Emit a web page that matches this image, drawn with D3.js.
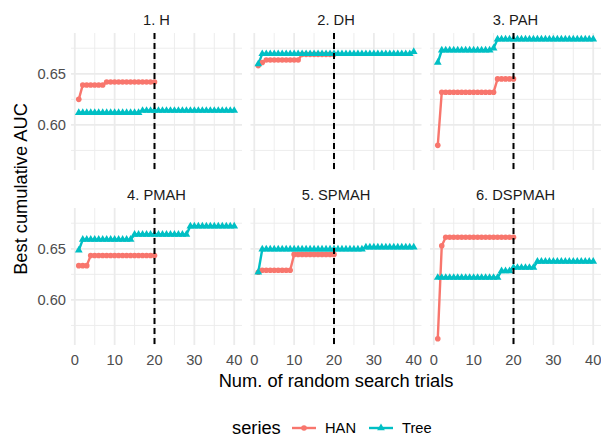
<!DOCTYPE html>
<html>
<head>
<meta charset="utf-8">
<script src="https://cdn.jsdelivr.net/npm/d3@7"></script>
<style>
body { margin: 0; background: #fff; }
svg { font-family: "Liberation Sans", Arial, sans-serif; display: block; }
</style>
</head>
<body>
<svg></svg>
<script>
let panelNames = ['1. H', '2. DH', '3. PAH', '4. PMAH', '5. SPMAH', '6. DSPMAH']
let seriesNames = ['HAN', 'Tree']

let hanTrials = [1,2,3,4,5,6,7,8,9,10,11,12,13,14,15,16,17,18,19,20]
let treeTrials = [1,2,3,4,5,6,7,8,9,10,11,12,13,14,15,16,17,18,19,20,
                  21,22,23,24,25,26,27,28,29,30,31,32,33,34,35,36,37,38,39,40]

// best cumulative AUC, one value per trial
let hanH = [0.625,0.639,0.639,0.639,0.639,0.639,0.639,0.642,0.642,0.642,
            0.642,0.642,0.642,0.642,0.642,0.642,0.642,0.642,0.642,0.642]
let treeH = [0.612,0.612,0.612,0.612,0.612,0.612,0.612,0.612,0.612,0.612,
             0.612,0.612,0.612,0.612,0.612,0.612,0.614,0.614,0.614,0.614,
             0.614,0.614,0.614,0.614,0.614,0.614,0.614,0.614,0.614,0.614,
             0.614,0.614,0.614,0.614,0.614,0.614,0.614,0.614,0.614,0.614]

let hanDH = [0.658,0.661,0.6635,0.6635,0.6635,0.6635,0.6635,0.6635,0.6635,0.6635,
             0.6635,0.669,0.669,0.669,0.669,0.669,0.669,0.669,0.669,0.669]
let treeDH = [0.6595,0.6695,0.6695,0.6695,0.6695,0.6695,0.6695,0.6695,0.6695,0.6695,
              0.6695,0.6695,0.6695,0.6695,0.6695,0.6695,0.6695,0.6695,0.6695,0.6695,
              0.6695,0.6695,0.6695,0.6695,0.6695,0.6695,0.6695,0.6695,0.6695,0.6695,
              0.6695,0.6695,0.6695,0.6695,0.6695,0.6695,0.6695,0.6695,0.6695,0.6715]

let hanPAH = [0.580,0.632,0.632,0.632,0.632,0.632,0.632,0.632,0.632,0.632,
              0.632,0.632,0.632,0.632,0.632,0.645,0.645,0.645,0.645,0.645]
let treePAH = [0.661,0.673,0.673,0.673,0.673,0.673,0.673,0.673,0.673,0.673,
               0.673,0.673,0.673,0.673,0.675,0.6838,0.6838,0.6838,0.6838,0.6838,
               0.6838,0.6838,0.6838,0.6838,0.6838,0.6838,0.6838,0.6838,0.6838,0.6838,
               0.6838,0.6838,0.6838,0.6838,0.6838,0.6838,0.6838,0.6838,0.6838,0.6838]

let hanPMAH = [0.6335,0.6335,0.6335,0.6435,0.6435,0.6435,0.6435,0.6435,0.6435,0.6435,
               0.6435,0.6435,0.6435,0.6435,0.6435,0.6435,0.6435,0.6435,0.6435,0.6435]
let treePMAH = [0.6485,0.659,0.659,0.659,0.659,0.659,0.659,0.659,0.659,0.659,
                0.659,0.659,0.659,0.659,0.664,0.664,0.664,0.664,0.664,0.664,
                0.664,0.664,0.664,0.664,0.664,0.664,0.664,0.664,0.672,0.672,
                0.672,0.672,0.672,0.672,0.672,0.672,0.672,0.672,0.672,0.672]

let hanSPMAH = [0.627,0.629,0.629,0.629,0.629,0.629,0.629,0.629,0.629,0.6445,
                0.6445,0.6445,0.6445,0.6445,0.6445,0.6445,0.6445,0.6445,0.6445,0.6445]
let treeSPMAH = [0.627,0.6495,0.6495,0.6495,0.6495,0.6495,0.6495,0.6495,0.6495,0.6495,
                 0.6495,0.6495,0.6495,0.6495,0.6495,0.6495,0.6495,0.6495,0.6495,0.6495,
                 0.6495,0.6495,0.6495,0.6495,0.6495,0.6495,0.6495,0.6515,0.6515,0.6515,
                 0.6515,0.6515,0.6515,0.6515,0.6515,0.6515,0.6515,0.6515,0.6515,0.6515]

let hanDSPMAH = [0.562,0.653,0.6613,0.6613,0.6613,0.6613,0.6613,0.6613,0.6613,0.6613,
                 0.6613,0.6613,0.6613,0.6613,0.6613,0.6613,0.6613,0.6613,0.6613,0.6613]
let treeDSPMAH = [0.6218,0.6218,0.6218,0.6218,0.6218,0.6218,0.6218,0.6218,0.6218,0.6218,
                  0.6218,0.6218,0.6218,0.6218,0.6218,0.6218,0.6283,0.6283,0.6283,0.6316,
                  0.6316,0.6316,0.6316,0.6316,0.6316,0.6375,0.6375,0.6375,0.6375,0.6375,
                  0.6375,0.6375,0.6375,0.6375,0.6375,0.6375,0.6375,0.6375,0.6375,0.6375]

let hanSeries = [hanH, hanDH, hanPAH, hanPMAH, hanSPMAH, hanDSPMAH]
let treeSeries = [treeH, treeDH, treePAH, treePMAH, treeSPMAH, treeDSPMAH]

let xTicks = [0, 10, 20, 30, 40]
let xMinorTicks = [5, 15, 25, 35]
let yTicks = [0.60, 0.65]
let yTickLabels = ['0.60', '0.65']
let yMinorTicks = [0.575, 0.625, 0.675]
let cutoffTrial = 20

let width = 601
let height = 437
let panelWidth = 171
let panelHeight = 137
let colX = [71, 250.5, 430]
let rowY = [33, 208]

let colors = {HAN: '#F8766D', Tree: '#00BFC4'}
let gridColor = '#EBEBEB'

let svg = d3.select('svg').attr('width', width).attr('height', height)

// ggplot-style 5% expansion on both scales
let expand = (ext) => {
    let pad = (ext[1] - ext[0]) * 0.05
    return [ext[0] - pad, ext[1] + pad]
}

let xScale = d3.scaleLinear()
               .domain(expand(d3.extent(treeTrials.concat(hanTrials))))
               .range([0, panelWidth])

let allValues = hanSeries.flat().concat(treeSeries.flat())
let yScale = d3.scaleLinear()
               .domain(expand(d3.extent(allValues)))
               .range([panelHeight, 0])

let line = d3.line()
             .x(d => xScale(d[0]))
             .y(d => yScale(d[1]))

let triangle = d3.symbol().type(d3.symbolTriangle).size(26)

let drawPanel = (i) => {
    let col = i % 3
    let row = Math.floor(i / 3)
    let g = svg.append('g')
               .attr('transform', 'translate(' + colX[col] + ',' + rowY[row] + ')')

    // minor grid
    g.selectAll('.xminor').data(xMinorTicks).enter().append('line')
     .attr('x1', d => xScale(d)).attr('x2', d => xScale(d))
     .attr('y1', 0).attr('y2', panelHeight)
     .attr('stroke', gridColor).attr('stroke-width', 0.9)
    g.selectAll('.yminor').data(yMinorTicks).enter().append('line')
     .attr('y1', d => yScale(d)).attr('y2', d => yScale(d))
     .attr('x1', 0).attr('x2', panelWidth)
     .attr('stroke', gridColor).attr('stroke-width', 0.9)
    // major grid
    g.selectAll('.xmajor').data(xTicks).enter().append('line')
     .attr('x1', d => xScale(d)).attr('x2', d => xScale(d))
     .attr('y1', 0).attr('y2', panelHeight)
     .attr('stroke', gridColor).attr('stroke-width', 1.8)
    g.selectAll('.ymajor').data(yTicks).enter().append('line')
     .attr('y1', d => yScale(d)).attr('y2', d => yScale(d))
     .attr('x1', 0).attr('x2', panelWidth)
     .attr('stroke', gridColor).attr('stroke-width', 1.8)

    let han = hanTrials.map((t, j) => [t, hanSeries[i][j]])
    let tree = treeTrials.map((t, j) => [t, treeSeries[i][j]])

    g.append('path').datum(han)
     .attr('d', line).attr('fill', 'none')
     .attr('stroke', colors.HAN).attr('stroke-width', 2.4)
    g.append('path').datum(tree)
     .attr('d', line).attr('fill', 'none')
     .attr('stroke', colors.Tree).attr('stroke-width', 2.4)

    g.selectAll('.hanpt').data(han).enter().append('circle')
     .attr('cx', d => xScale(d[0])).attr('cy', d => yScale(d[1]))
     .attr('r', 2.8).attr('fill', colors.HAN)
    g.selectAll('.treept').data(tree).enter().append('path')
     .attr('d', triangle)
     .attr('transform', d => 'translate(' + xScale(d[0]) + ',' + yScale(d[1]) + ')')
     .attr('fill', colors.Tree)

    g.append('line')
     .attr('x1', xScale(cutoffTrial)).attr('x2', xScale(cutoffTrial))
     .attr('y1', 0).attr('y2', panelHeight)
     .attr('stroke', '#000').attr('stroke-width', 2)
     .attr('stroke-dasharray', '6,4')

    // strip
    g.append('text')
     .attr('x', panelWidth / 2).attr('y', -8)
     .attr('text-anchor', 'middle')
     .attr('font-size', 14.7).attr('fill', '#1A1A1A')
     .text(panelNames[i])

    // y tick labels on the left column
    if (col === 0) {
        g.selectAll('.ylab').data(yTicks).enter().append('text')
         .attr('x', -5).attr('y', d => yScale(d) + 5)
         .attr('text-anchor', 'end')
         .attr('font-size', 14.7).attr('fill', '#4D4D4D')
         .text((d, j) => yTickLabels[j])
    }
    // x tick labels on the bottom row
    if (row === 1) {
        g.selectAll('.xlab').data(xTicks).enter().append('text')
         .attr('x', d => xScale(d)).attr('y', panelHeight + 20)
         .attr('text-anchor', 'middle')
         .attr('font-size', 14.7).attr('fill', '#4D4D4D')
         .text(d => d)
    }
}

let drawTitles = () => {
    let centerX = (colX[0] + colX[2] + panelWidth) / 2
    svg.append('text')
       .attr('x', centerX).attr('y', 387)
       .attr('text-anchor', 'middle')
       .attr('font-size', 18.3).attr('fill', '#000')
       .text('Num. of random search trials')
    let centerY = (rowY[0] + rowY[1] + panelHeight) / 2
    svg.append('text')
       .attr('transform', 'translate(27,' + centerY + ') rotate(-90)')
       .attr('text-anchor', 'middle')
       .attr('font-size', 18.3).attr('fill', '#000')
       .text('Best cumulative AUC')
}

let drawLegend = () => {
    let ly = 428
    let lg = svg.append('g')
    lg.append('text')
      .attr('x', 232).attr('y', ly + 6)
      .attr('font-size', 18.3).attr('fill', '#000')
      .text('series')
    let keyX = [292, 369]
    seriesNames.forEach((s, k) => {
        lg.append('line')
          .attr('x1', keyX[k]).attr('x2', keyX[k] + 24)
          .attr('y1', ly).attr('y2', ly)
          .attr('stroke', colors[s]).attr('stroke-width', 2.4)
        if (s === 'HAN') {
            lg.append('circle').attr('cx', keyX[k] + 12).attr('cy', ly)
              .attr('r', 2.8).attr('fill', colors[s])
        } else {
            lg.append('path').attr('d', triangle)
              .attr('transform', 'translate(' + (keyX[k] + 12) + ',' + ly + ')')
              .attr('fill', colors[s])
        }
        lg.append('text')
          .attr('x', keyX[k] + 33).attr('y', ly + 5)
          .attr('font-size', 14.7).attr('fill', '#000')
          .text(s)
    })
}

panelNames.forEach((name, i) => drawPanel(i))
drawTitles()
drawLegend()
</script>
</body>
</html>
